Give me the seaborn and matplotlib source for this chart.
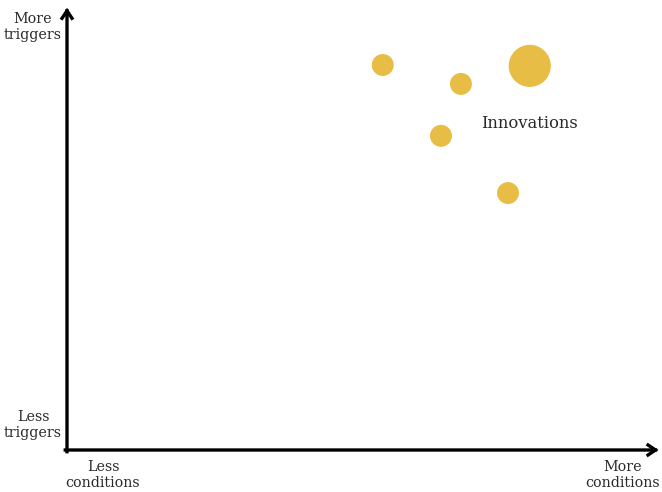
#!/usr/bin/env python3

import matplotlib.pylab as plt
import pandas as pd
import seaborn as sns

# Bubble positions (0-100 scale on both axes)
conditions = [53.7, 67.0, 78.7, 63.6, 75.0]
triggers = [87.5, 83.2, 87.3, 71.4, 58.4]
weights = [1, 1, 3, 1, 1]

gold = "#E8BD45"
ink = "#2a2a2a"

sns.set_theme(style="white")
plt.rcParams["font.family"] = ["DejaVu Serif", "DejaVu Sans"]

df = pd.DataFrame({"conditions": conditions, "triggers": triggers, "weight": weights})

fig = plt.figure(figsize=(6.62, 4.92), dpi=100)
ax = fig.add_axes([67 / 662, 42 / 492, 588 / 662, 440 / 492])

sns.scatterplot(
    df,
    ax=ax,
    x="conditions",
    y="triggers",
    size="weight",
    sizes=(250, 920),
    color=gold,
    edgecolor="none",
    alpha=1.0,
    legend=False,
)
ax.set_xlim(0, 100)
ax.set_ylim(0, 100)
ax.set_xlabel("")
ax.set_ylabel("")
ax.set_xticks([])
ax.set_yticks([])
for spine in ax.spines.values():
    spine.set_visible(False)

# Axis arrows, open chevron heads like the reference
arrow = dict(arrowstyle="->,head_length=0.45,head_width=0.3", color="black", lw=2.4,
             shrinkA=0, shrinkB=0, capstyle="projecting", joinstyle="miter")
ax.annotate("", xy=(0, 1.005), xytext=(0, -0.004), xycoords="axes fraction",
            arrowprops=arrow, annotation_clip=False)
ax.annotate("", xy=(1.006, 0), xytext=(-0.003, 0), xycoords="axes fraction",
            arrowprops=arrow, annotation_clip=False)


# Corner labels (in figure pixels)
def label(x, y, text, size=10.3):
    fig.text(x / 662, 1 - y / 492, text, ha="center", va="center",
             fontsize=size, color=ink, linespacing=1.2)


label(33, 27, "More\ntriggers")
label(33, 425, "Less\ntriggers")
label(103, 475, "Less\nconditions")
label(623, 475, "More\nconditions")
label(530, 123, "Innovations", size=11.8)

plt.savefig("out.png", dpi=100)
